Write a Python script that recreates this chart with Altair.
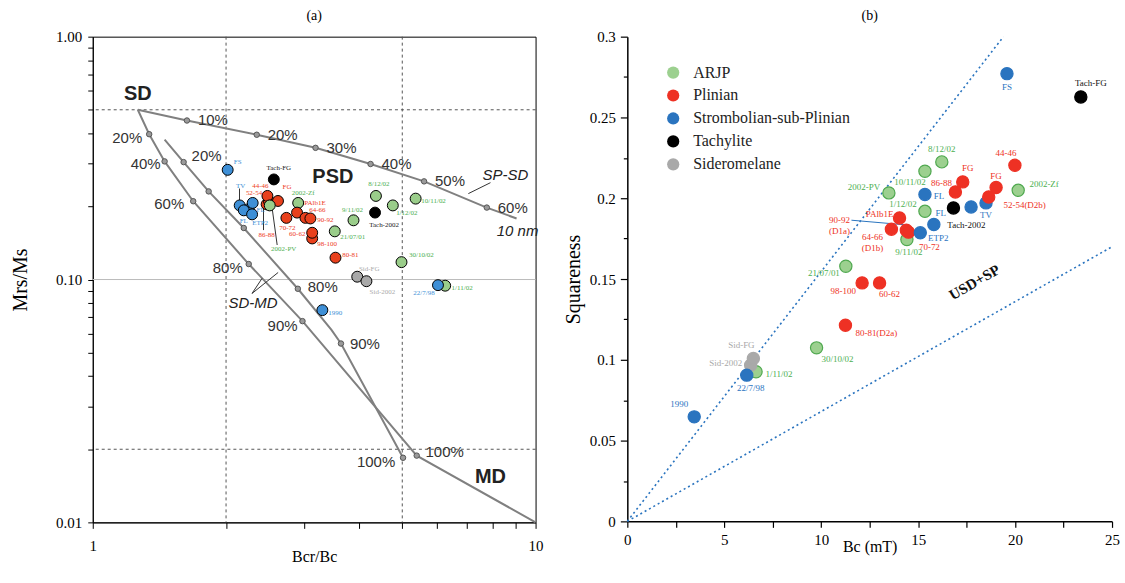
import altair as alt
import pandas as pd

SERIF = "Liberation Serif"
SANS = "Liberation Sans"

GROUPS = ["ARJP", "Plinian", "Strombolian-sub-Plinian", "Tachylite", "Sideromelane"]

# ---------------- panel (a): Day plot ----------------
A_LABEL = ["1/11/02", "22/7/98", "Sid-FG", "Sid-2002", "1990", "30/10/02", "80-81",
           "98-100", "60-62", "21/07/01", "9/11/02", "Tach-2002", "8/12/02", "1/12/02",
           "10/11/02", "2002-Zf", "70-72", "PAlb1E", "64-66", "90-92", "FS", "Tach-FG",
           "TV", "", "FL", "FL", "ETP2", "86-88", "52-54", "44-46", "FG", "2002-PV"]
A_GROUP = ["ARJP", "Strombolian-sub-Plinian", "Sideromelane", "Sideromelane",
           "Strombolian-sub-Plinian", "ARJP", "Plinian", "Plinian", "Plinian", "ARJP",
           "ARJP", "Tachylite", "ARJP", "ARJP", "ARJP", "ARJP", "Plinian", "Plinian",
           "Plinian", "Plinian", "Strombolian-sub-Plinian", "Tachylite",
           "Strombolian-sub-Plinian", "Strombolian-sub-Plinian", "Strombolian-sub-Plinian",
           "Strombolian-sub-Plinian", "Strombolian-sub-Plinian", "Plinian", "Plinian",
           "Plinian", "Plinian", "ARJP"]
A_BCR_BC = [6.25, 6.02, 3.956, 4.15, 3.30, 4.98, 3.533, 3.13, 3.13, 3.52, 3.88, 4.34,
            4.36, 4.76, 5.36, 2.91, 2.737, 2.893, 3.022, 3.101, 2.017, 2.564, 2.147,
            2.25, 2.297, 2.193, 2.29, 2.47, 2.50, 2.48, 2.62, 2.51]
A_MRS_MS = [0.0943, 0.0948, 0.1027, 0.0984, 0.0748, 0.1179, 0.123, 0.1476, 0.1558,
            0.1579, 0.1753, 0.1886, 0.2209, 0.2019, 0.2153, 0.2067, 0.1794, 0.1886,
            0.1794, 0.1784, 0.2829, 0.2583, 0.2019, 0.1948, 0.2067, 0.1927, 0.1855,
            0.204, 0.2101, 0.2209, 0.2106, 0.2019]

# SP-SD and SD-MD mixing curves
SPSD_X = [1.264, 1.632, 2.346, 3.185, 4.24, 5.6, 7.76, 9.06]
SPSD_Y = [0.5, 0.4516, 0.3946, 0.3485, 0.299, 0.2536, 0.1978, 0.1784]
SPSD_PCT = ["", "10%", "20%", "30%", "40%", "50%", "60%", ""]
SPSD_MARK = [0, 1, 1, 1, 1, 1, 1, 0]

MIXA_X = [1.264, 1.341, 1.453, 1.686, 2.25, 2.976, 5.39, 10.0]
MIXA_Y = [0.5, 0.3967, 0.3065, 0.2101, 0.1158, 0.0674, 0.01883, 0.01]
MIXA_PCT = ["", "20%", "40%", "60%", "80%", "90%", "100%", ""]
MIXA_MARK = [0, 1, 1, 1, 1, 1, 1, 0]

MIXB_X = [1.453, 1.604, 1.827, 2.193, 2.905, 3.46, 3.635, 5.02]
MIXB_Y = [0.377, 0.3044, 0.2306, 0.163, 0.0916, 0.062, 0.0545, 0.01845]
MIXB_PCT = ["", "20%", "", "", "80%", "", "90%", "100%"]
MIXB_MARK = [0, 1, 1, 1, 1, 0, 1, 1]

A_BOLD_TEXT = ["SD", "PSD", "MD"]
A_BOLD_X = [1.264, 3.485, 7.91]
A_BOLD_Y = [0.581, 0.265, 0.0154]
A_ITAL_TEXT = ["SP-SD", "10 nm", "SD-MD"]
A_ITAL_X = [8.55, 9.107, 2.30]
A_ITAL_Y = [0.270, 0.159, 0.0797]

A_PTR_X = [7.05, 2.289, 2.289, 2.43, 2.609, 2.145]
A_PTR_Y = [0.2258, 0.0876, 0.0876, 0.1598, 0.1387, 0.2369]
A_PTR_X2 = [7.91, 2.412, 2.622, 2.43, 2.542, 2.145]
A_PTR_Y2 = [0.2505, 0.1011, 0.1069, 0.1962, 0.1962, 0.2121]

A_HDASH = [0.5, 0.02]
A_HSOLID = [0.1]
A_VDASH = [2, 5]

# ---------------- panel (b): Squareness vs Bc ----------------
B_LABEL = ["FS", "Tach-FG", "8/12/02", "10/11/02", "2002-Zf", "2002-PV", "1/12/02",
           "9/11/02", "21/07/01", "30/10/02", "1/11/02", "Sid-2002", "Sid-FG", "22/7/98",
           "1990", "FL", "TV", "", "FL", "Tach-2002", "44-46", "FG", "FG", "86-88",
           "52-54(D2b)", "PAlb1E", "64-66\n(D1b)", "90-92\n(D1a)", "70-72", "ETP2",
           "98-100", "60-62", "80-81(D2a)"]
B_GROUP = ["Strombolian-sub-Plinian", "Tachylite", "ARJP", "ARJP", "ARJP", "ARJP", "ARJP",
           "ARJP", "ARJP", "ARJP", "ARJP", "Sideromelane", "Sideromelane",
           "Strombolian-sub-Plinian", "Strombolian-sub-Plinian", "Strombolian-sub-Plinian",
           "Strombolian-sub-Plinian", "Strombolian-sub-Plinian", "Strombolian-sub-Plinian",
           "Tachylite", "Plinian", "Plinian", "Plinian", "Plinian", "Plinian", "Plinian",
           "Plinian", "Plinian", "Plinian", "Strombolian-sub-Plinian", "Plinian", "Plinian",
           "Plinian"]
B_BC = [19.58, 23.39, 16.22, 15.35, 20.16, 13.49, 15.35, 14.42, 11.27, 9.76, 6.64, 6.36,
        6.5, 6.16, 3.45, 15.35, 18.5, 17.73, 15.81, 16.82, 19.99, 17.3, 19.02, 16.92,
        18.64, 14.04, 13.62, 14.39, 14.5, 15.11, 12.11, 13.01, 11.25]
B_SQ = [0.2771, 0.2627, 0.2225, 0.2167, 0.2049, 0.2033, 0.1919, 0.1744, 0.1579, 0.1074,
        0.0926, 0.0967, 0.1008, 0.0905, 0.0647, 0.2023, 0.1971, 0.1946, 0.1837, 0.194,
        0.2204, 0.2101, 0.2066, 0.2039, 0.2008, 0.1878, 0.1808, 0.1802, 0.179, 0.1786,
        0.1476, 0.1476, 0.1214]

B_REF_ID = ["upper", "upper", "lower", "lower"]
B_REF_BC = [0, 19.4, 0, 25]
B_REF_SQ = [0, 0.3, 0, 0.17]

B_NOTE_TEXT = ["USD+SP"]
B_NOTE_BC = [17.9]
B_NOTE_SQ = [0.148]

B_PTR_BC = [11.56]
B_PTR_SQ = [0.1864]
B_PTR_BC2 = [14.56]
B_PTR_SQ2 = [0.1833]

# ---------------- styling (layout only) ----------------
A_FILL = ["#9ACD8A", "#E8401C", "#3E8FD6", "#000000", "#A8A8A8"]
A_TEXT = ["#4CAF50", "#EE3B24", "#3E8FD6", "#222222", "#AAAAAA"]
B_FILL = ["#9CD08F", "#EE3124", "#2A74BF", "#000000", "#A9A9A9"]
B_STROKE = ["#4FA84F", "#EE3124", "#2A74BF", "#000000", "#A9A9A9"]
B_TEXT = ["#4CAF50", "#EE3124", "#2A74BF", "#111111", "#A8A8A8"]

A_NUDGE = [(17, 2), (-14, 8), (12, -8), (16, 11), (13, 3), (20, -7), (15, -3), (15, 6),
           (-15, 1), (18, 6), (-1, -10), (9, 12), (3, -12), (14, 8), (18, 2), (5, -10),
           (1, 10), (18, -10), (12, -8), (15, 2), (10, -8), (5, -11), (1, -19), (0, 0),
           (8, 7), (0, 11), (8, 9), (0, 31), (-15, -8), (-7, -10), (9, -14), (14, 44)]
B_NUDGE = [(0, 13), (10, -14), (0, -13), (-15, 11), (26, -6), (-25, -6), (-22, -7),
           (2, 12), (-22, 7), (21, 11), (23, 2), (-25, -2), (-12, -14), (4, 13),
           (-15, -13), (14, 1), (0, 12), (0, 0), (7, -12), (13, 17), (-9, -12), (5, -14),
           (0, -12), (-14, -9), (36, 8), (-20, -4), (-19, 8), (-67, -10), (21, 15),
           (18, 5), (-19, 8), (10, 11), (31, 8)]
SPSD_NUDGE = [(0, 0)] + [(26, 0)] * 6 + [(0, 0)]
MIXA_NUDGE = [(0, 0), (-22, 4), (-19, 3), (-24, 3), (-21, 4), (-20, 5), (28, -4), (0, 0)]
MIXB_NUDGE = [(0, 0), (23, -6), (0, 0), (0, 0), (25, -2), (0, 0), (24, 0), (-27, 4)]

NUDGE_DX = {"expr": "datum.dx"}
NUDGE_DY = {"expr": "datum.dy"}

# ---------------- tables ----------------
a_pts = pd.DataFrame({"label": A_LABEL, "group": A_GROUP, "x": A_BCR_BC, "y": A_MRS_MS,
                      "dx": [n[0] for n in A_NUDGE], "dy": [n[1] for n in A_NUDGE]})
rows = []
for name, xs, ys, pcts, marks, nudges in [
        ("spsd", SPSD_X, SPSD_Y, SPSD_PCT, SPSD_MARK, SPSD_NUDGE),
        ("mixa", MIXA_X, MIXA_Y, MIXA_PCT, MIXA_MARK, MIXA_NUDGE),
        ("mixb", MIXB_X, MIXB_Y, MIXB_PCT, MIXB_MARK, MIXB_NUDGE)]:
    for i in range(len(xs)):
        rows.append({"curve": name, "i": i, "x": xs[i], "y": ys[i], "pct": pcts[i],
                     "mark": marks[i], "dx": nudges[i][0], "dy": nudges[i][1]})
curves = pd.DataFrame(rows)
a_bold = pd.DataFrame({"t": A_BOLD_TEXT, "x": A_BOLD_X, "y": A_BOLD_Y})
a_ital = pd.DataFrame({"t": A_ITAL_TEXT, "x": A_ITAL_X, "y": A_ITAL_Y})
a_ptr = pd.DataFrame({"x": A_PTR_X, "y": A_PTR_Y, "x2": A_PTR_X2, "y2": A_PTR_Y2})

b_pts = pd.DataFrame({"label": B_LABEL, "group": B_GROUP, "x": B_BC, "y": B_SQ,
                      "dx": [n[0] for n in B_NUDGE], "dy": [n[1] for n in B_NUDGE]})
b_ref = pd.DataFrame({"id": B_REF_ID, "x": B_REF_BC, "y": B_REF_SQ})
b_note = pd.DataFrame({"t": B_NOTE_TEXT, "x": B_NOTE_BC, "y": B_NOTE_SQ})
b_ptr = pd.DataFrame({"x": B_PTR_BC, "y": B_PTR_SQ, "x2": B_PTR_BC2, "y2": B_PTR_SQ2})

# ---------------- panel (a) chart ----------------
xa = alt.Scale(type="log", domain=[1, 10], nice=False)
ya = alt.Scale(type="log", domain=[0.01, 1], nice=False)
A_XTICKS = list(range(1, 11))
A_YTICKS = [round(m * 10.0 ** e, 4) for e in (-2, -1) for m in range(1, 10)] + [1.0]

AX_A_X = alt.Axis(title="Bcr/Bc", values=A_XTICKS,
                  labelExpr="datum.value == 1 || datum.value == 10 ? format(datum.value, 'd') : ''",
                  grid=False, tickSize=6, tickColor="black", domainColor="black",
                  labelFont=SERIF, labelFontSize=15, labelColor="black", labelPadding=10,
                  labelFlush=False, labelOverlap=False,
                  titleFont=SERIF, titleFontSize=16, titleFontWeight="normal",
                  titleColor="black", titleY=34, titleBaseline="middle")
AX_A_Y = alt.Axis(title="Mrs/Ms", values=A_YTICKS,
                  labelExpr="datum.value == 0.01 || datum.value == 0.1 || datum.value == 1 ? format(datum.value, '.2f') : ''",
                  grid=False, tickSize=5, tickColor="black", domainColor="black",
                  labelFont=SERIF, labelFontSize=15, labelColor="black", labelPadding=6,
                  labelFlush=False, labelOverlap=False,
                  titleFont=SERIF, titleFontSize=20, titleFontWeight="normal",
                  titleColor="black", titleX=-72, titleBaseline="middle")


def XA():
    return alt.X("x:Q", scale=xa, axis=AX_A_X)


def YA():
    return alt.Y("y:Q", scale=ya, axis=AX_A_Y)


h_dash = alt.Chart(pd.DataFrame({"y": A_HDASH})).mark_rule(
    strokeDash=[3, 3], color="#555555", strokeWidth=1).encode(y=YA())
h_solid = alt.Chart(pd.DataFrame({"y": A_HSOLID})).mark_rule(
    color="#BBBBBB", strokeWidth=1).encode(y=YA())
v_dash = alt.Chart(pd.DataFrame({"x": A_VDASH})).mark_rule(
    strokeDash=[3, 3], color="#555555", strokeWidth=1).encode(x=XA())

curve_lines = alt.Chart(curves).mark_line(color="#808080", strokeWidth=2).encode(
    x=XA(), y=YA(), detail="curve:N", order="i:Q")
curve_marks = alt.Chart(curves).transform_filter("datum.mark == 1").mark_circle(
    size=30, color="#9A9A9A", opacity=1, stroke="#555555", strokeWidth=1).encode(x=XA(), y=YA())
pct_text = alt.Chart(curves).transform_filter("datum.pct != ''").mark_text(
    font=SANS, fontSize=15, color="#333333", baseline="middle",
    dx=NUDGE_DX, dy=NUDGE_DY).encode(x=XA(), y=YA(), text="pct:N")
bold_text = alt.Chart(a_bold).mark_text(
    font=SANS, fontSize=20, fontWeight="bold", color="#222222", baseline="middle").encode(
    x=XA(), y=YA(), text="t:N")
ital_text = alt.Chart(a_ital).mark_text(
    font=SANS, fontSize=15, fontStyle="italic", color="#222222", baseline="middle").encode(
    x=XA(), y=YA(), text="t:N")
ptr_a = alt.Chart(a_ptr).mark_rule(color="#333333", strokeWidth=1).encode(
    x=XA(), y=YA(), x2="x2:Q", y2="y2:Q")
pts_a = alt.Chart(a_pts).mark_circle(size=120, opacity=1, stroke="black", strokeWidth=1).encode(
    x=XA(), y=YA(),
    color=alt.Color("group:N", scale=alt.Scale(domain=GROUPS, range=A_FILL), legend=None))
lbl_a = alt.Chart(a_pts).mark_text(font=SERIF, fontSize=7, baseline="middle",
                                   dx=NUDGE_DX, dy=NUDGE_DY).encode(
    x=XA(), y=YA(), text="label:N",
    color=alt.Color("group:N", scale=alt.Scale(domain=GROUPS, range=A_TEXT), legend=None))

left = alt.layer(h_solid, h_dash, v_dash, curve_lines, curve_marks, pct_text, bold_text,
                 ital_text, ptr_a, pts_a, lbl_a).resolve_scale(color="independent").properties(
    width=444, height=487,
    title=alt.TitleParams("(a)", font=SERIF, fontSize=14, fontWeight="normal",
                          color="black", offset=7),
    view=alt.ViewBackground(stroke="black", strokeWidth=1))

# ---------------- panel (b) chart ----------------
xb = alt.Scale(domain=[0, 25], nice=False)
yb = alt.Scale(domain=[0, 0.3], nice=False)
B_XTICKS = [i * 2.5 for i in range(11)]
B_YTICKS = [round(i * 0.025, 3) for i in range(13)]
MAJOR_Y = "abs(datum.value * 20 - round(datum.value * 20)) < 0.001"

AX_B_X = alt.Axis(title="Bc (mT)", values=B_XTICKS,
                  labelExpr="datum.value % 5 == 0 ? format(datum.value, 'd') : ''",
                  grid=False, tickSize=6, tickColor="black", domainColor="black",
                  domainWidth=1.5, tickWidth=1.2,
                  labelFont=SERIF, labelFontSize=15, labelColor="black", labelPadding=5,
                  labelFlush=False, labelOverlap=False,
                  titleFont=SERIF, titleFontSize=16, titleFontWeight="normal",
                  titleColor="black", titleY=25, titleBaseline="middle")
AX_B_Y = alt.Axis(title="Squareness", values=B_YTICKS,
                  labelExpr=MAJOR_Y + " ? format(datum.value, '.2~f') : ''",
                  grid=False,
                  tickSize={"condition": {"test": MAJOR_Y, "value": 7}, "value": 4},
                  tickColor="black", domainColor="black",
                  domainWidth=1.5, tickWidth=1.2,
                  labelFont=SERIF, labelFontSize=15, labelColor="black", labelPadding=5,
                  labelFlush=False, labelOverlap=False,
                  titleFont=SERIF, titleFontSize=20, titleFontWeight="normal",
                  titleColor="black", titleX=-54, titleBaseline="middle")


def XB():
    return alt.X("x:Q", scale=xb, axis=AX_B_X)


def YB():
    return alt.Y("y:Q", scale=yb, axis=AX_B_Y)


ref_b = alt.Chart(b_ref).mark_line(color="#2A74BF", strokeWidth=1.6, strokeDash=[2, 3]).encode(
    x=XB(), y=YB(), detail="id:N")
note_b = alt.Chart(b_note).mark_text(font=SERIF, fontSize=15, fontWeight="bold", angle=330,
                                     color="#111111").encode(x=XB(), y=YB(), text="t:N")
ptr_b = alt.Chart(b_ptr).mark_rule(color="#2A74BF", strokeWidth=1).encode(
    x=XB(), y=YB(), x2="x2:Q", y2="y2:Q")
pts_b = alt.Chart(b_pts).mark_circle(size=150, opacity=1, strokeWidth=1.2).encode(
    x=XB(), y=YB(),
    color=alt.Color("group:N", scale=alt.Scale(domain=GROUPS, range=B_FILL),
                    legend=alt.Legend(title=None, orient="none", legendX=38, legendY=28,
                                      symbolType="circle", symbolSize=150, symbolOpacity=1,
                                      symbolStrokeWidth=0, labelFont=SERIF, labelFontSize=16,
                                      labelColor="#222222", rowPadding=7, labelOffset=12,
                                      padding=0)),
    stroke=alt.Stroke("group:N", scale=alt.Scale(domain=GROUPS, range=B_STROKE), legend=None))
lbl_b = alt.Chart(b_pts).mark_text(font=SERIF, fontSize=9, baseline="middle", lineBreak="\n",
                                   dx=NUDGE_DX, dy=NUDGE_DY).encode(
    x=XB(), y=YB(), text="label:N",
    color=alt.Color("group:N", scale=alt.Scale(domain=GROUPS, range=B_TEXT), legend=None))

right = alt.layer(ref_b, note_b, ptr_b, pts_b, lbl_b).resolve_scale(
    color="independent", stroke="independent").properties(
    width=486, height=486,
    title=alt.TitleParams("(b)", font=SERIF, fontSize=14, fontWeight="normal",
                          color="black", offset=7))

chart = alt.hconcat(left, right, spacing=20).resolve_scale(
    color="independent", stroke="independent").properties(
    padding={"left": 10, "top": 7, "right": 5, "bottom": 5}).configure_view(strokeWidth=0)

chart.save("out.html", embed_options={"renderer": "svg", "actions": False})
